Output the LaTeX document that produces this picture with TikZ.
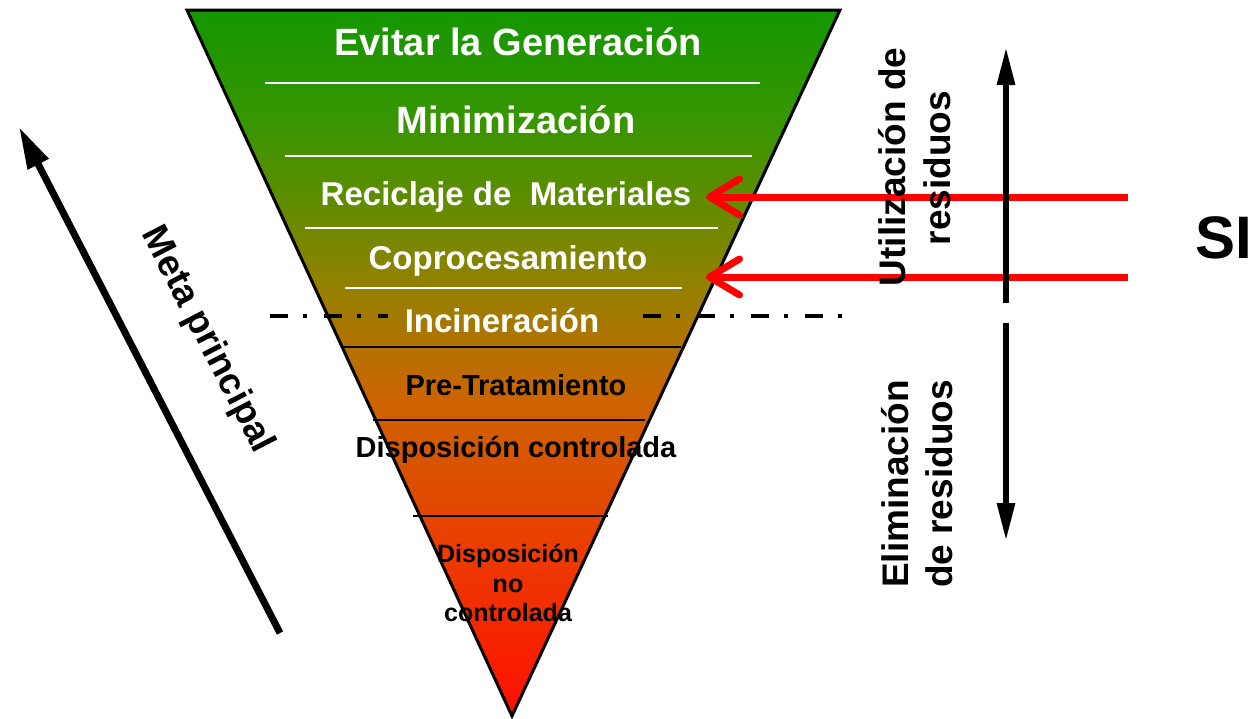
\documentclass[tikz,border=0pt]{standalone}
\usepackage{fontspec}
\setmainfont{Liberation Sans}
\usetikzlibrary{arrows.meta}
\definecolor{ca}{RGB}{20,150,0}
\definecolor{cb}{RGB}{55,150,0}
\definecolor{cc}{RGB}{95,140,0}
\definecolor{cd}{RGB}{150,128,0}
\definecolor{ce}{RGB}{205,100,0}
\definecolor{cf}{RGB}{235,60,0}
\definecolor{cg}{RGB}{255,15,0}
\definecolor{redarrow}{RGB}{255,0,0}
\pgfdeclareverticalshading{pyr}{100bp}{color(0bp)=(cg); color(25bp)=(cg); color(36.8bp)=(cf); color(47.4bp)=(ce); color(55.2bp)=(cd); color(61.5bp)=(cc); color(67.2bp)=(cb); color(75bp)=(ca); color(100bp)=(ca)}
\begin{document}
\begin{tikzpicture}[x=1pt,y=-1pt,
  big/.style={font=\fontsize{38}{44}\selectfont\bfseries, text=white, inner sep=0, anchor=base},
  mid/.style={font=\fontsize{33}{40}\selectfont\bfseries, text=white, inner sep=0, anchor=base},
  low/.style={font=\fontsize{29}{35}\selectfont\bfseries, text=black, inner sep=0, anchor=base},
  tiny/.style={font=\fontsize{25}{30}\selectfont\bfseries, text=black, inner sep=0, anchor=base},
  side/.style={font=\fontsize{37}{44}\selectfont\bfseries, text=black, inner sep=0, anchor=base, rotate=90},
  wsep/.style={draw=white, line width=2.5pt},
  bsep/.style={draw=black, line width=2pt},
  dashdot/.style={draw=black, line width=4pt, dash pattern=on 18pt off 15pt on 4pt off 17pt},
  redarr/.style={draw=redarrow, line width=7pt, -{Straight Barb[length=30pt,width=36pt,round]}},
  blackarr/.style={draw=black, line width=6pt, -{Triangle[length=38pt,width=17pt]}}
]
\useasboundingbox (0,0) rectangle (1250,718);
\clip (0,0) rectangle (1250,718);
\fill[white] (0,0) rectangle (1250,718);
% pyramid
\coordinate (TL) at (187,10);
\coordinate (TR) at (840,10);
\coordinate (AP) at (512,716);
\shade[shading=pyr] (TL) -- (TR) -- (AP) -- cycle;
% separators
\coordinate (w1a) at (265,83);  \coordinate (w1b) at (760,83);
\coordinate (w2a) at (285,156); \coordinate (w2b) at (752,156);
\coordinate (w3a) at (305,228); \coordinate (w3b) at (718,228);
\coordinate (w4a) at (345,288); \coordinate (w4b) at (682,288);
\draw[wsep] (w1a) -- (w1b);
\draw[wsep] (w2a) -- (w2b);
\draw[wsep] (w3a) -- (w3b);
\draw[wsep] (w4a) -- (w4b);
\coordinate (b1a) at (343,347); \coordinate (b1b) at (681,347);
\coordinate (b2a) at (373,420); \coordinate (b2b) at (645,420);
\coordinate (b3a) at (413,516); \coordinate (b3b) at (608,516);
\draw[bsep] (b1a) -- (b1b);
\draw[bsep] (b2a) -- (b2b);
\draw[bsep] (b3a) -- (b3b);
% dash-dot boundary
\coordinate (d1a) at (270,316); \coordinate (d1b) at (388,316);
\coordinate (d2a) at (643,316); \coordinate (d2b) at (853,316);
\draw[dashdot] (d1a) -- (d1b);
\draw[dashdot] (d2a) -- (d2b);
\draw[line width=3pt, line join=miter] (TL) -- (TR) -- (AP) -- cycle;
% level labels
\node[big] (l1) at (518,55) {Evitar la Generación};
\node[big] (l2) at (516,133) {Minimización};
\node[mid] (l3) at (506,205) {Reciclaje de\ \ Materiales};
\node[mid] (l4) at (508,269) {Coprocesamiento};
\node[mid] (l5) at (502,332) {Incineración};
\node[low] (l6) at (516,395) {Pre-Tratamiento};
\node[low] (l7) at (516,457) {Disposición controlada};
\node[tiny] (l8a) at (508,562) {Disposición};
\node[tiny] (l8b) at (508,592) {no};
\node[tiny] (l8c) at (508,621) {controlada};
% red arrows
\coordinate (r1s) at (1128,197); \coordinate (r1e) at (706,197);
\coordinate (r2s) at (1128,277); \coordinate (r2e) at (706,277);
\draw[redarr] (r1s) -- (r1e);
\draw[redarr] (r2s) -- (r2e);
% right side arrows
\coordinate (u1) at (1006,303); \coordinate (u2) at (1006,47);
\coordinate (v1) at (1006,323); \coordinate (v2) at (1006,541);
\draw[blackarr] (u1) -- (u2);
\draw[blackarr] (v1) -- (v2);
% side labels
\node[side] (s1) at (905,167) {Utilización de};
\node[side] (s2) at (950,168) {residuos};
\node[side] (s3) at (908,484) {Eliminación};
\node[side] (s4) at (952,484) {de residuos};
\node[font=\fontsize{60}{70}\selectfont\bfseries, inner sep=0, anchor=base west] (si) at (1195,258) {SI};
% meta principal
\coordinate (m1) at (280,633); \coordinate (m2) at (19,127);
\draw[draw=black, line width=7pt, -{Triangle[length=42pt,width=22pt]}] (m1) -- (m2);
\node[font=\fontsize{37}{44}\selectfont\bfseries, inner sep=0, rotate=-62.7] (mp) at (207,340) {Meta principal};
\end{tikzpicture}
\end{document}
